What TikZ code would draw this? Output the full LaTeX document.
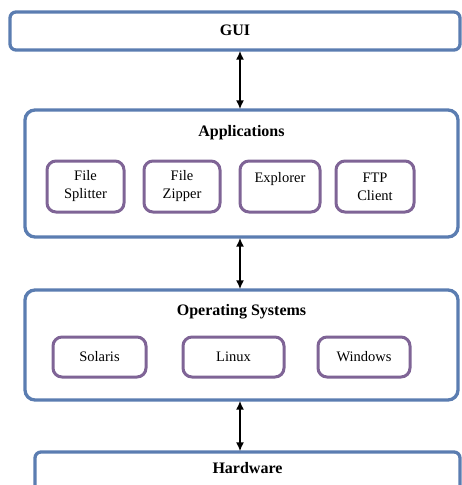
\documentclass[tikz,border=0pt]{standalone}
\usepackage{fontspec}
\setmainfont{Liberation Serif}
\usetikzlibrary{arrows.meta}
\definecolor{layerblue}{HTML}{5B7DB1}
\definecolor{itempurple}{HTML}{7F6496}
\begin{document}
\begin{tikzpicture}[x = 1pt, y = -1pt,
    layer/.style = {draw = layerblue, line width = 3.3pt, rounded corners = 10pt, fill = white, inner sep = 0pt},
    item/.style = {draw = itempurple, line width = 3pt, rounded corners = 9pt, inner sep = 0pt, font = \fontsize{14.5}{18}\selectfont, align = center},
    heading/.style = {font = \fontsize{16}{19}\selectfont\bfseries},
    biarrow/.style = {{Latex[length=9pt,width=8pt]}-{Latex[length=9pt,width=8pt]}, line width = 2pt, shorten <= -1pt, shorten >= -1pt}]
        \useasboundingbox (0,0) rectangle (462,485);
        % layers
        \node[layer, rounded corners = 6pt, minimum width = 450pt, minimum height = 38pt](gui)at(235,31){};
        \node[layer, minimum width = 433pt, minimum height = 127pt](apps)at(241.5,173.5){};
        \node[layer, minimum width = 433pt, minimum height = 110pt](os)at(241.5,345){};
        \node[layer, rounded corners = 6pt, minimum width = 425pt, minimum height = 40pt](hw)at(247.5,472){};
        % headings
        \node[heading](guiT)at(235,30){GUI};
        \node[heading](appsT)at(241.5,133){Applications};
        \node[heading](osT)at(241.5,312){Operating Systems};
        \node[heading](hwT)at(247.5,468){Hardware};
        % applications
        \node[item, minimum width = 77pt, minimum height = 51pt](split)at(85.5,186.5){File\\Splitter};
        \node[item, minimum width = 76pt, minimum height = 51pt](zip)at(182,186.5){File\\Zipper};
        \node[item, minimum width = 80pt, minimum height = 51pt](expl)at(280,186.5){Explorer\\\mbox{}};
        \node[item, minimum width = 78pt, minimum height = 51pt](ftp)at(375,186.5){FTP\\Client};
        % operating systems
        \node[item, minimum width = 93pt, minimum height = 40pt](sol)at(99.5,357){Solaris};
        \node[item, minimum width = 101pt, minimum height = 40pt](lin)at(233.5,357){Linux};
        \node[item, minimum width = 92pt, minimum height = 40pt](win)at(364,357){Windows};
        % connectors
        \coordinate(axis)at(240,0);
        \draw[biarrow](gui.south -| axis)to(apps.north -| axis);
        \draw[biarrow](apps.south -| axis)to(os.north -| axis);
        \draw[biarrow](os.south -| axis)to(hw.north -| axis);
    \end{tikzpicture}
\end{document}
